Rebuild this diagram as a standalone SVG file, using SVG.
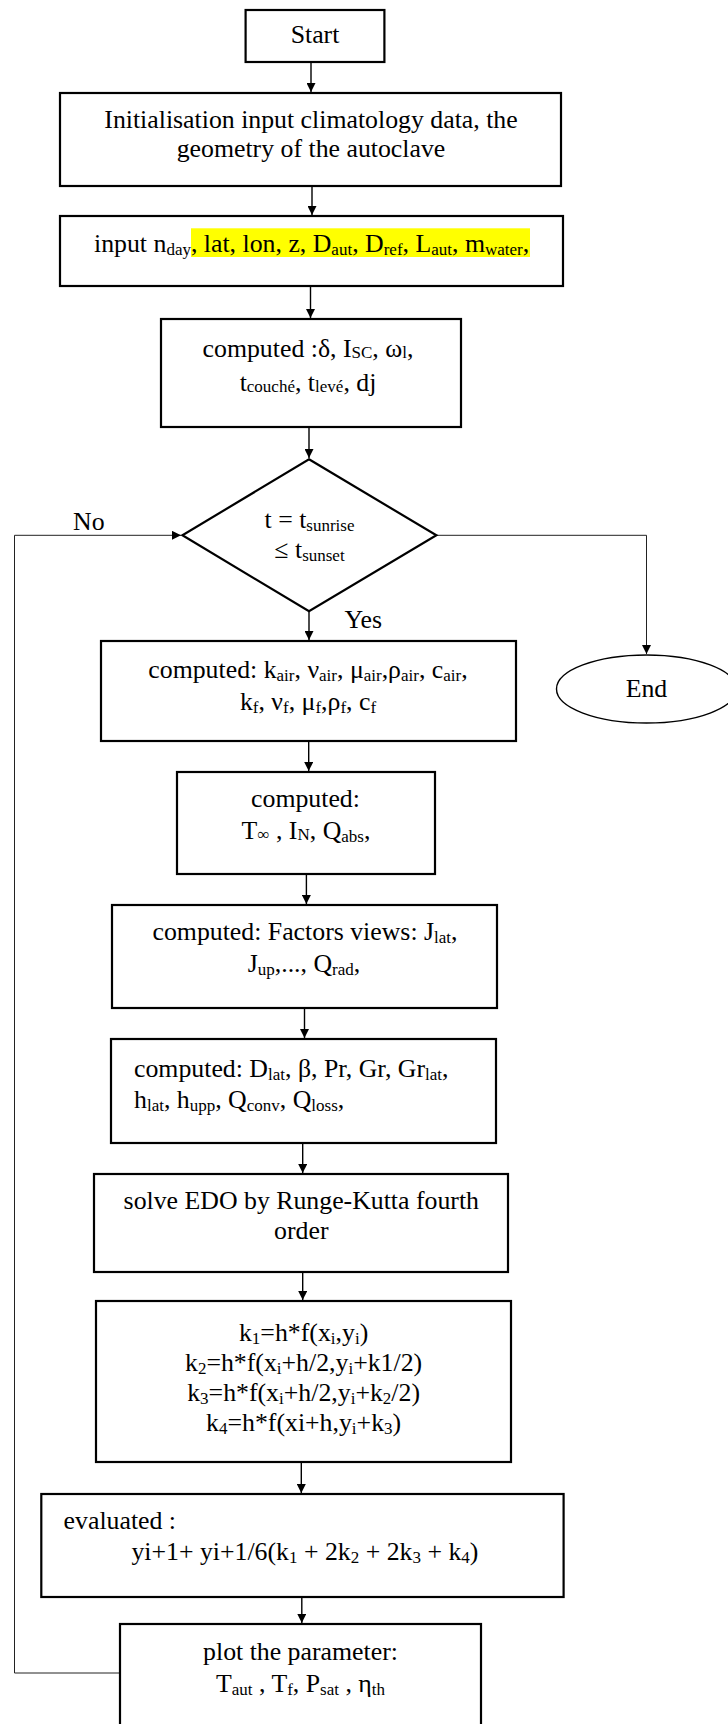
<svg xmlns="http://www.w3.org/2000/svg" width="728" height="1724" viewBox="0 0 728 1724">
<style>
  .box { fill: #fff; stroke: #000; stroke-width: 2.2; }
  .t { font-family: "Liberation Serif", "Times New Roman", serif; font-size: 25.8px; fill: #000; }
  .c { text-anchor: middle; }
  .s { font-size: 17px; }
  .conn { fill: none; stroke: #000; stroke-width: 1.4; }
  .thin { fill: none; stroke: #222; stroke-width: 1; }
</style>
<defs>
  <marker id="arr" viewBox="0 0 10 10" refX="10" refY="5" markerWidth="11" markerHeight="9" markerUnits="userSpaceOnUse" orient="auto">
    <path d="M0,0 L10,5 L0,10 Z" fill="#000"/>
  </marker>
</defs>
<rect width="728" height="1724" fill="#fff"/>

<g id="connectors">
  <line class="conn" x1="311" y1="62" x2="311" y2="92" marker-end="url(#arr)"/>
  <line class="conn" x1="312" y1="186" x2="312" y2="215" marker-end="url(#arr)"/>
  <line class="conn" x1="310.5" y1="286" x2="310.5" y2="318" marker-end="url(#arr)"/>
  <line class="conn" x1="309" y1="427" x2="309" y2="458" marker-end="url(#arr)"/>
  <line class="conn" x1="309" y1="611" x2="309" y2="640" marker-end="url(#arr)"/>
  <line class="conn" x1="308.7" y1="741" x2="308.7" y2="771" marker-end="url(#arr)"/>
  <line class="conn" x1="306.4" y1="874" x2="306.4" y2="904" marker-end="url(#arr)"/>
  <line class="conn" x1="304.5" y1="1008" x2="304.5" y2="1038" marker-end="url(#arr)"/>
  <line class="conn" x1="302.7" y1="1143" x2="302.7" y2="1173" marker-end="url(#arr)"/>
  <line class="conn" x1="302.7" y1="1272" x2="302.7" y2="1300" marker-end="url(#arr)"/>
  <line class="conn" x1="301.3" y1="1462" x2="301.3" y2="1493" marker-end="url(#arr)"/>
  <line class="conn" x1="301.8" y1="1597" x2="301.8" y2="1623" marker-end="url(#arr)"/>
  <path class="thin" d="M120,1673 H14.5 V535.3 H181" marker-end="url(#arr)"/>
  <path class="thin" d="M436.4,535.3 H646.5 V654" marker-end="url(#arr)"/>
  <text class="t" x="73" y="530">No</text>
  <text class="t" x="344.5" y="628">Yes</text>
</g>

<g id="start">
  <rect class="box" x="245.6" y="10" width="138.8" height="52"/>
  <text class="t c" x="315" y="43">Start</text>
</g>

<g id="init">
  <rect class="box" x="60" y="93" width="501" height="93"/>
  <text class="t c" x="311" y="128">Initialisation input climatology data, the</text>
  <text class="t c" x="311" y="157">geometry of the autoclave</text>
</g>

<g id="input">
  <rect class="box" x="60" y="216" width="503" height="70"/>
  <rect x="191" y="228.3" width="339" height="28.7" fill="#ffff00"/>
  <text class="t" x="94" y="252">input n<tspan class="s" dy="2.5">day</tspan><tspan dy="-2.5">, lat, lon, z, D</tspan><tspan class="s" dy="2.5">aut</tspan><tspan dy="-2.5">, D</tspan><tspan class="s" dy="2.5">ref</tspan><tspan dy="-2.5">, L</tspan><tspan class="s" dy="2.5">aut</tspan><tspan dy="-2.5">, m</tspan><tspan class="s" dy="2.5">water</tspan><tspan dy="-2.5">,</tspan></text>
</g>

<g id="computed1">
  <rect class="box" x="161" y="319" width="300" height="108"/>
  <text class="t c" x="308" y="357">computed :δ, I<tspan class="s" dy="1">SC</tspan><tspan dy="-1">, ω</tspan><tspan class="s" dy="1">l</tspan><tspan dy="-1">,</tspan></text>
  <text class="t c" x="308" y="391">t<tspan class="s" dy="1">couché</tspan><tspan dy="-1">, t</tspan><tspan class="s" dy="1">levé</tspan><tspan dy="-1">, dj</tspan></text>
</g>

<g id="decision">
  <polygon class="box" points="309,459.3 436.4,535.3 309,611.3 182.4,535.3"/>
  <text class="t c" x="309.5" y="528">t = t<tspan class="s" dy="2.5">sunrise</tspan></text>
  <text class="t c" x="309.5" y="558">≤ t<tspan class="s" dy="2.5">sunset</tspan></text>
</g>

<g id="end">
  <ellipse cx="646.5" cy="689" rx="90" ry="34" fill="#fff" stroke="#000" stroke-width="1.4"/>
  <text class="t c" x="646.5" y="697">End</text>
</g>

<g id="props">
  <rect class="box" x="101" y="641" width="415" height="100"/>
  <text class="t c" x="308" y="678">computed: k<tspan class="s" dy="2.5">air</tspan><tspan dy="-2.5">, ν</tspan><tspan class="s" dy="2.5">air</tspan><tspan dy="-2.5">, μ</tspan><tspan class="s" dy="2.5">air</tspan><tspan dy="-2.5">,ρ</tspan><tspan class="s" dy="2.5">air</tspan><tspan dy="-2.5">, c</tspan><tspan class="s" dy="2.5">air</tspan><tspan dy="-2.5">,</tspan></text>
  <text class="t c" x="308" y="710">k<tspan class="s" dy="2.5">f</tspan><tspan dy="-2.5">, ν</tspan><tspan class="s" dy="2.5">f</tspan><tspan dy="-2.5">, μ</tspan><tspan class="s" dy="2.5">f</tspan><tspan dy="-2.5">,ρ</tspan><tspan class="s" dy="2.5">f</tspan><tspan dy="-2.5">, c</tspan><tspan class="s" dy="2.5">f</tspan></text>
</g>

<g id="computed2">
  <rect class="box" x="177" y="772" width="258" height="102"/>
  <text class="t c" x="305.5" y="807">computed:</text>
  <text class="t c" x="306" y="839">T<tspan class="s" dy="1">∞</tspan><tspan dy="-1"> , I</tspan><tspan class="s" dy="1">N</tspan><tspan dy="-1">, Q</tspan><tspan class="s" dy="2.5">abs</tspan><tspan dy="-2.5">,</tspan></text>
</g>

<g id="computed3">
  <rect class="box" x="112" y="905" width="385" height="103"/>
  <text class="t c" x="305" y="940">computed: Factors views: J<tspan class="s" dy="2.5">lat</tspan><tspan dy="-2.5">,</tspan></text>
  <text class="t c" x="304" y="972">J<tspan class="s" dy="2.5">up</tspan><tspan dy="-2.5">,..., Q</tspan><tspan class="s" dy="2.5">rad</tspan><tspan dy="-2.5">,</tspan></text>
</g>

<g id="computed4">
  <rect class="box" x="111" y="1039" width="385" height="104"/>
  <text class="t" x="134" y="1077">computed: D<tspan class="s" dy="2.5">lat</tspan><tspan dy="-2.5">, β, Pr, Gr, Gr</tspan><tspan class="s" dy="2.5">lat</tspan><tspan dy="-2.5">,</tspan></text>
  <text class="t" x="134" y="1108">h<tspan class="s" dy="2.5">lat</tspan><tspan dy="-2.5">, h</tspan><tspan class="s" dy="2.5">upp</tspan><tspan dy="-2.5">, Q</tspan><tspan class="s" dy="2.5">conv</tspan><tspan dy="-2.5">, Q</tspan><tspan class="s" dy="2.5">loss</tspan><tspan dy="-2.5">,</tspan></text>
</g>

<g id="solve">
  <rect class="box" x="94" y="1174" width="414" height="98"/>
  <text class="t c" x="301.3" y="1209">solve EDO by Runge-Kutta fourth</text>
  <text class="t c" x="301.3" y="1239">order</text>
</g>

<g id="rk">
  <rect class="box" x="96" y="1301" width="415" height="161"/>
  <text class="t c" x="303.6" y="1341">k<tspan class="s" dy="2.5">1</tspan><tspan dy="-2.5">=h*f(x</tspan><tspan class="s" dy="2.5">i</tspan><tspan dy="-2.5">,y</tspan><tspan class="s" dy="2.5">i</tspan><tspan dy="-2.5">)</tspan></text>
  <text class="t c" x="303.6" y="1371">k<tspan class="s" dy="2.5">2</tspan><tspan dy="-2.5">=h*f(x</tspan><tspan class="s" dy="2.5">i</tspan><tspan dy="-2.5">+h/2,y</tspan><tspan class="s" dy="2.5">i</tspan><tspan dy="-2.5">+k1/2)</tspan></text>
  <text class="t c" x="303.6" y="1401">k<tspan class="s" dy="2.5">3</tspan><tspan dy="-2.5">=h*f(x</tspan><tspan class="s" dy="2.5">i</tspan><tspan dy="-2.5">+h/2,y</tspan><tspan class="s" dy="2.5">i</tspan><tspan dy="-2.5">+k</tspan><tspan class="s" dy="2.5">2</tspan><tspan dy="-2.5">/2)</tspan></text>
  <text class="t c" x="303.6" y="1431">k<tspan class="s" dy="2.5">4</tspan><tspan dy="-2.5">=h*f(xi+h,y</tspan><tspan class="s" dy="2.5">i</tspan><tspan dy="-2.5">+k</tspan><tspan class="s" dy="2.5">3</tspan><tspan dy="-2.5">)</tspan></text>
</g>

<g id="evaluated">
  <rect class="box" x="41.3" y="1494" width="522.3" height="103"/>
  <text class="t" x="63.6" y="1529">evaluated :</text>
  <text class="t" x="131.4" y="1560">yi+1+ yi+1/6(k<tspan class="s" dy="2.5">1</tspan><tspan dy="-2.5"> + 2k</tspan><tspan class="s" dy="2.5">2</tspan><tspan dy="-2.5"> + 2k</tspan><tspan class="s" dy="2.5">3</tspan><tspan dy="-2.5"> + k</tspan><tspan class="s" dy="2.5">4</tspan><tspan dy="-2.5">)</tspan></text>
</g>

<g id="plot">
  <rect class="box" x="120" y="1624" width="361" height="110"/>
  <text class="t c" x="300.5" y="1660">plot the parameter:</text>
  <text class="t c" x="300.5" y="1692">T<tspan class="s" dy="2.5">aut</tspan><tspan dy="-2.5"> , T</tspan><tspan class="s" dy="2.5">f</tspan><tspan dy="-2.5">, P</tspan><tspan class="s" dy="2.5">sat</tspan><tspan dy="-2.5"> , η</tspan><tspan class="s" dy="2.5">th</tspan></text>
</g>
</svg>
